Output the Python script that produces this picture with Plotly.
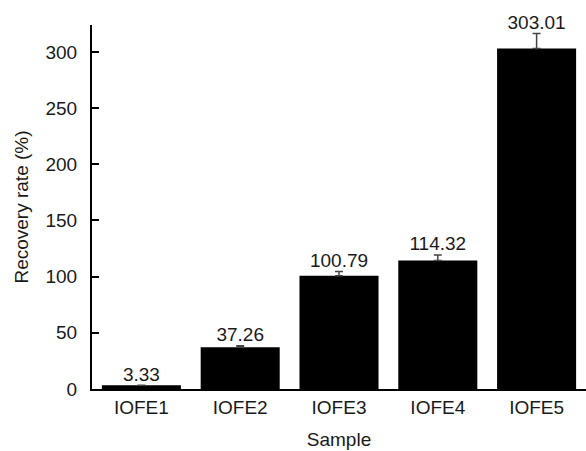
import plotly.graph_objects as go

samples = ["IOFE1", "IOFE2", "IOFE3", "IOFE4", "IOFE5"]
recovery = [3.33, 37.26, 100.79, 114.32, 303.01]
errors = [0.0, 1.2, 3.8, 5.0, 13.5]
labels = ["3.33", "37.26", "100.79", "114.32", "303.01"]
y_ticks = [0, 50, 100, 150, 200, 250, 300]

FONT = "Liberation Sans, Arial, sans-serif"
FS = 19

fig = go.Figure()
fig.add_trace(go.Bar(
    x=samples, y=recovery, width=0.8,
    marker=dict(color="black", line=dict(width=0)),
    error_y=dict(type="data", symmetric=False, array=errors, arrayminus=[0] * len(errors),
                 visible=True, color="#444444", thickness=1.5, width=4),
    showlegend=False, hoverinfo="skip",
))
fig.add_trace(go.Scatter(
    x=samples, y=[v + e for v, e in zip(recovery, errors)],
    mode="text", text=labels, textposition="top center",
    textfont=dict(size=FS, color="#1a1a1a", family=FONT),
    showlegend=False, hoverinfo="skip", cliponaxis=False,
))

fig.update_layout(
    width=586, height=451,
    margin=dict(l=92, r=0, t=25, b=62, autoexpand=False),
    paper_bgcolor="white", plot_bgcolor="white",
    font=dict(family=FONT, size=FS, color="#1a1a1a"),
    bargap=0.2,
)
fig.update_xaxes(
    range=[-0.5, 4.5], showline=True, linecolor="black", linewidth=2,
    ticks="", showgrid=False, zeroline=False, automargin=False,
    title=dict(text="Sample", font=dict(size=FS), standoff=16),
    tickfont=dict(size=FS),
)
fig.update_yaxes(
    range=[0, 324], tickvals=y_ticks, showline=True, linecolor="black", linewidth=2,
    ticks="inside", ticklen=7, tickwidth=2, tickcolor="black",
    showgrid=False, zeroline=False, ticklabelstandoff=9, automargin=False,
    title=dict(text="Recovery rate (%)", font=dict(size=FS), standoff=12),
    tickfont=dict(size=FS),
)

fig.write_html(
    "out.html",
    config={"displayModeBar": False},
    post_script="document.body.style.margin='0px';document.body.style.overflow='hidden';",
)
